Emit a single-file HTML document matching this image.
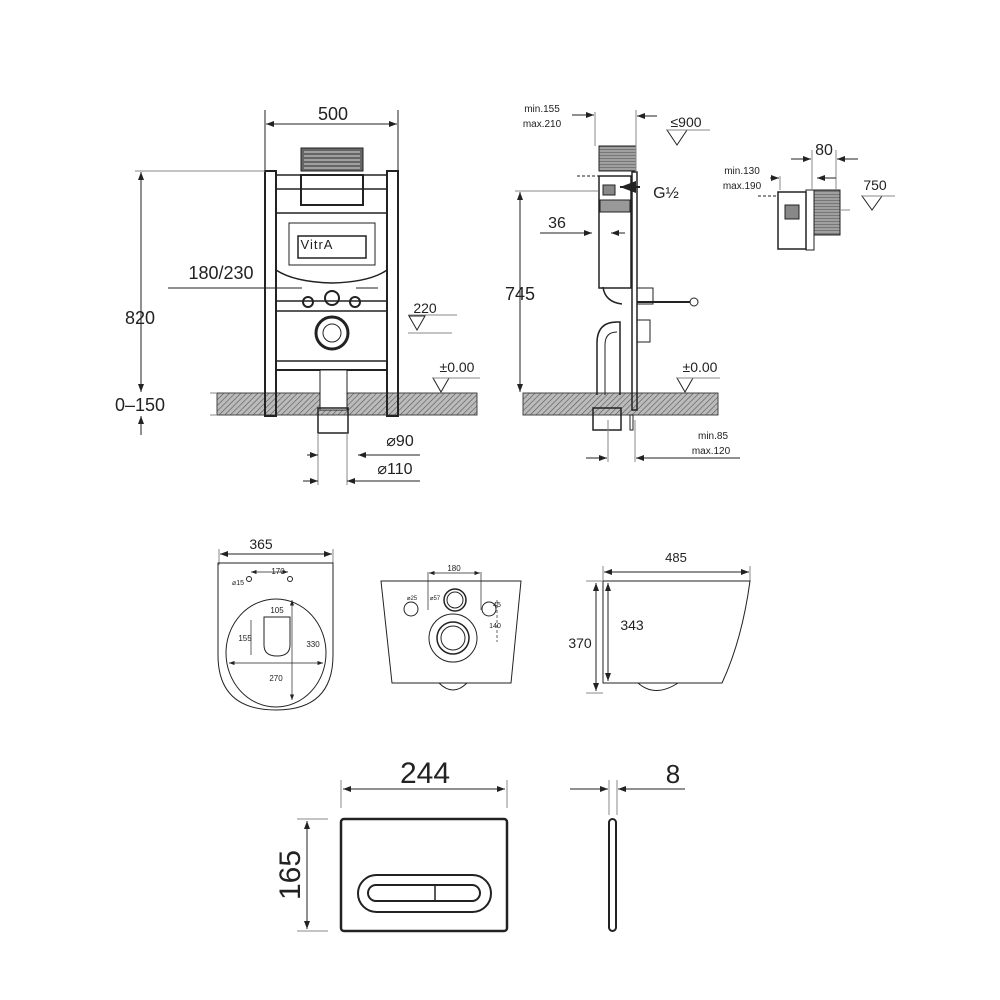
<!DOCTYPE html>
<html><head><meta charset="utf-8"><style>
html,body{margin:0;padding:0;background:#fff}
svg{display:block}
text{font-family:"Liberation Sans",sans-serif;fill:#222}
</style></head><body>
<svg width="1000" height="1000" viewBox="0 0 1000 1000" xmlns="http://www.w3.org/2000/svg">
<defs>
<pattern id="h" width="4" height="4" patternUnits="userSpaceOnUse" patternTransform="rotate(45)">
<rect width="4" height="4" fill="#bbb"/><line x1="0" y1="0" x2="0" y2="4" stroke="#555" stroke-width="1.2"/></pattern>
<pattern id="g" width="3" height="3" patternUnits="userSpaceOnUse"><rect width="3" height="3" fill="#777"/><line x1="0" y1="1" x2="3" y2="1" stroke="#ddd" stroke-width="0.8"/></pattern>
<marker id="a" markerWidth="8" markerHeight="6" refX="8" refY="3" orient="auto-start-reverse"><path d="M0,0 L8,3 L0,6z" fill="#222"/></marker>
</defs>
<g stroke="#222" fill="none" stroke-width="1">
<rect x="217" y="393" width="260" height="22" fill="url(#h)" stroke="#444"/>
<line x1="265" y1="110" x2="265" y2="170"/><line x1="398" y1="110" x2="398" y2="170"/>
<line x1="266" y1="124" x2="397" y2="124" marker-start="url(#a)" marker-end="url(#a)"/>
<rect x="301" y="148" width="62" height="23" fill="#666"/>
<g stroke="#fff" stroke-width="0.8"><line x1="304" y1="152" x2="360" y2="152"/><line x1="304" y1="156" x2="360" y2="156"/><line x1="304" y1="160" x2="360" y2="160"/><line x1="304" y1="164" x2="360" y2="164"/><line x1="304" y1="168" x2="360" y2="168"/></g>
<rect x="265" y="171" width="11" height="245" stroke-width="2"/>
<rect x="387" y="171" width="11" height="245" stroke-width="2"/>
<rect x="276" y="175" width="111" height="14" stroke-width="1.5"/>
<rect x="301" y="175" width="62" height="30" stroke-width="2"/>
<path d="M276 213 L387 213 L387 270 Q370 282 332 283 Q294 282 276 270Z" stroke-width="1.5"/>
<rect x="289" y="223" width="86" height="42"/>
<rect x="298" y="236" width="68" height="22" stroke-width="1.5"/>
<line x1="276" y1="301" x2="387" y2="301" stroke-width="1.5"/>
<line x1="276" y1="311" x2="387" y2="311" stroke-width="1.5"/>
<line x1="276" y1="370" x2="387" y2="370" stroke-width="2"/>
<line x1="276" y1="361" x2="387" y2="361" stroke-width="1.5"/>
<circle cx="308" cy="302" r="5" stroke-width="2"/><circle cx="355" cy="302" r="5" stroke-width="2"/>
<circle cx="332" cy="298" r="7" stroke-width="2"/>
<circle cx="332" cy="333" r="16" stroke-width="3"/><circle cx="332" cy="333" r="9"/>
<rect x="320" y="370" width="27" height="40" fill="#fff"/>
<rect x="318" y="408" width="30" height="25" stroke-width="1.5"/>
<line x1="141" y1="172" x2="141" y2="392" marker-start="url(#a)" marker-end="url(#a)"/>
<line x1="135" y1="171" x2="265" y2="171" stroke="#888"/>
<line x1="210" y1="393" x2="217" y2="393" stroke="#888"/><line x1="210" y1="415" x2="217" y2="415" stroke="#888"/>
<line x1="141" y1="416" x2="141" y2="435" marker-start="url(#a)"/>
<line x1="168" y1="288" x2="302" y2="288"/><line x1="356" y1="288" x2="378" y2="288"/>
<line x1="408" y1="315" x2="457" y2="315" stroke="#888"/><line x1="408" y1="333" x2="452" y2="333" stroke="#888"/>
<path d="M409 316 L425 316 L417 330Z"/>
<path d="M433 378 L449 378 L441 392Z"/><line x1="433" y1="378" x2="480" y2="378" stroke="#888"/>
<line x1="318" y1="433" x2="318" y2="485" stroke="#888"/><line x1="347" y1="433" x2="347" y2="485" stroke="#888"/>
<line x1="307" y1="455" x2="318" y2="455" marker-end="url(#a)"/><line x1="358" y1="455" x2="420" y2="455" marker-start="url(#a)"/>
<line x1="303" y1="481" x2="318" y2="481" marker-end="url(#a)"/><line x1="347" y1="481" x2="420" y2="481" marker-start="url(#a)"/>
<rect x="523" y="393" width="195" height="22" fill="url(#h)" stroke="#444"/>
<rect x="599" y="146" width="37" height="25" fill="url(#g)"/>
<rect x="632" y="172" width="5" height="238" stroke-width="1.5"/>
<rect x="599" y="176" width="32" height="112" stroke-width="1.5"/>
<rect x="603" y="185" width="12" height="10" fill="#888"/>
<rect x="600" y="200" width="30" height="12" fill="#999"/>
<path d="M603 287 Q605 302 622 304" stroke-width="1.5"/>
<rect x="637" y="288" width="16" height="16"/><rect x="637" y="320" width="13" height="22"/>
<line x1="637" y1="302" x2="690" y2="302" stroke-width="2"/><circle cx="694" cy="302" r="4"/>
<path d="M597 395 L597 343 Q597 322 617 322 L620 322 L620 395" stroke-width="1.5"/>
<path d="M605 395 L605 345 Q605 332 617 332" />
<rect x="593" y="408" width="28" height="22" stroke-width="1.5"/>
<rect x="630" y="415" width="3" height="15"/>
<line x1="595" y1="112" x2="595" y2="146" stroke="#888"/><line x1="572" y1="115" x2="594" y2="115" marker-end="url(#a)"/>
<line x1="636" y1="110" x2="636" y2="172" stroke="#888"/><line x1="657" y1="116" x2="637" y2="116" marker-end="url(#a)"/>
<path d="M667 130 L687 130 L677 145Z"/><line x1="667" y1="130" x2="710" y2="130" stroke="#888"/>
<line x1="577" y1="176" x2="600" y2="176" stroke-dasharray="3,2"/>
<line x1="640" y1="187" x2="620" y2="187" stroke-width="2" marker-end="url(#a)"/>
<line x1="520" y1="192" x2="520" y2="392" marker-start="url(#a)" marker-end="url(#a)"/>
<line x1="515" y1="191" x2="598" y2="191" stroke="#888"/>
<line x1="540" y1="233" x2="592" y2="233" marker-end="url(#a)"/><line x1="625" y1="233" x2="611" y2="233" marker-end="url(#a)"/>
<path d="M677 378 L693 378 L685 392Z"/><line x1="677" y1="378" x2="720" y2="378" stroke="#888"/>
<line x1="608" y1="420" x2="608" y2="462" stroke="#888"/><line x1="635" y1="420" x2="635" y2="462" stroke="#888"/>
<line x1="586" y1="458" x2="607" y2="458" marker-end="url(#a)"/><line x1="740" y1="458" x2="636" y2="458" marker-end="url(#a)"/>
<rect x="778" y="192" width="28" height="57" stroke-width="1.5"/>
<rect x="806" y="190" width="8" height="60"/>
<rect x="814" y="190" width="26" height="45" fill="url(#g)"/>
<rect x="785" y="205" width="14" height="14" fill="#888"/>
<line x1="758" y1="196" x2="778" y2="196" stroke-dasharray="3,2"/>
<line x1="770" y1="178" x2="779" y2="178" marker-end="url(#a)"/><line x1="780" y1="176" x2="780" y2="190" stroke="#888"/>
<line x1="791" y1="159" x2="811" y2="159" marker-end="url(#a)"/><line x1="858" y1="159" x2="837" y2="159" marker-end="url(#a)"/>
<line x1="812" y1="150" x2="812" y2="190" stroke="#888"/><line x1="836" y1="150" x2="836" y2="190" stroke="#888"/>
<line x1="836" y1="178" x2="817" y2="178" marker-end="url(#a)"/>
<path d="M862 196 L882 196 L872 210Z"/><line x1="862" y1="196" x2="895" y2="196" stroke="#888"/><line x1="840" y1="210" x2="850" y2="210" stroke="#888"/>
<line x1="219" y1="549" x2="219" y2="565" stroke="#888"/><line x1="333" y1="549" x2="333" y2="565" stroke="#888"/>
<line x1="220" y1="554" x2="332" y2="554" marker-start="url(#a)" marker-end="url(#a)"/>
<path d="M218 563 L333 563 L333 655 Q333 710 276 710 Q218 710 218 655Z"/>
<ellipse cx="276" cy="653" rx="50" ry="54"/>
<path d="M264 617 L290 617 L290 645 Q290 656 277 656 Q264 656 264 645Z"/>
<circle cx="249" cy="579" r="2.5"/><circle cx="290" cy="579" r="2.5"/>
<line x1="251" y1="572" x2="288" y2="572" marker-start="url(#a)" marker-end="url(#a)" stroke-width="0.7"/>
<line x1="229" y1="663" x2="323" y2="663" marker-start="url(#a)" marker-end="url(#a)" stroke-width="0.7"/>
<line x1="292" y1="600" x2="292" y2="700" marker-start="url(#a)" marker-end="url(#a)" stroke-width="0.7"/>
<line x1="251" y1="620" x2="251" y2="655" stroke-width="0.7"/>
<path d="M381 581 L521 581 L511 683 L392 683Z"/>
<circle cx="455" cy="600" r="11" stroke-width="1.5"/><circle cx="455" cy="600" r="8"/>
<circle cx="411" cy="609" r="7"/><circle cx="489" cy="609" r="7"/>
<circle cx="453" cy="638" r="24"/><circle cx="453" cy="638" r="16" stroke-width="1.5"/><circle cx="453" cy="638" r="12"/>
<path d="M439 683 Q453 697 467 683"/>
<line x1="428" y1="572" x2="428" y2="610" stroke-width="0.7"/><line x1="481" y1="572" x2="481" y2="610" stroke-width="0.7"/>
<line x1="429" y1="573" x2="480" y2="573" marker-start="url(#a)" marker-end="url(#a)" stroke-width="0.7"/>
<line x1="497" y1="600" x2="497" y2="642" stroke-dasharray="3,2" stroke-width="0.7"/>
<line x1="603" y1="566" x2="603" y2="582" stroke="#888"/><line x1="750" y1="566" x2="750" y2="582" stroke="#888"/>
<line x1="604" y1="572" x2="749" y2="572" marker-start="url(#a)" marker-end="url(#a)"/>
<path d="M603 581 L750 581 Q742 640 722 683 L603 683Z"/>
<path d="M638 683 Q655 698 678 683"/>
<line x1="586" y1="581" x2="603" y2="581" stroke="#888"/><line x1="586" y1="693" x2="603" y2="693" stroke="#888"/>
<line x1="596" y1="583" x2="596" y2="691" marker-start="url(#a)" marker-end="url(#a)"/>
<line x1="608" y1="583" x2="608" y2="681" marker-start="url(#a)" marker-end="url(#a)"/>
<line x1="341" y1="780" x2="341" y2="808" stroke="#888"/><line x1="507" y1="780" x2="507" y2="808" stroke="#888"/>
<line x1="343" y1="789" x2="505" y2="789" marker-start="url(#a)" marker-end="url(#a)"/>
<rect x="341" y="819" width="166" height="112" rx="3" stroke-width="2.5"/>
<rect x="358" y="875" width="133" height="37" rx="18.5" stroke-width="2"/>
<rect x="368" y="885" width="112" height="16" rx="8" stroke-width="2"/>
<line x1="435" y1="885" x2="435" y2="901" stroke-width="1.5"/>
<line x1="297" y1="819" x2="328" y2="819" stroke="#888"/><line x1="297" y1="931" x2="328" y2="931" stroke="#888"/>
<line x1="307" y1="821" x2="307" y2="929" marker-start="url(#a)" marker-end="url(#a)"/>
<rect x="609" y="819" width="7" height="112" rx="3.5" stroke-width="2"/>
<line x1="609" y1="780" x2="609" y2="815" stroke="#888"/><line x1="617" y1="780" x2="617" y2="815" stroke="#888"/>
<line x1="570" y1="789" x2="608" y2="789" marker-end="url(#a)"/><line x1="685" y1="789" x2="618" y2="789" marker-end="url(#a)"/>
</g>
<g>
<text x="333" y="120" font-size="18" text-anchor="middle">500</text>
<text x="140" y="324" font-size="18" text-anchor="middle">820</text>
<text x="140" y="411" font-size="18" text-anchor="middle">0–150</text>
<text x="221" y="279" font-size="18" text-anchor="middle">180/230</text>
<text x="425" y="313" font-size="14" text-anchor="middle">220</text>
<text x="457" y="372" font-size="14" text-anchor="middle">±0.00</text>
<text x="317" y="249" font-size="13" text-anchor="middle" letter-spacing="1">VitrA</text>
<text x="400" y="446" font-size="16" text-anchor="middle">⌀90</text>
<text x="395" y="474" font-size="16" text-anchor="middle">⌀110</text>
<text x="542" y="112" font-size="10" text-anchor="middle">min.155</text>
<text x="542" y="127" font-size="10" text-anchor="middle">max.210</text>
<text x="686" y="127" font-size="14" text-anchor="middle">≤900</text>
<text x="666" y="198" font-size="16" text-anchor="middle">G½</text>
<text x="520" y="300" font-size="18" text-anchor="middle">745</text>
<text x="557" y="228" font-size="16" text-anchor="middle">36</text>
<text x="700" y="372" font-size="14" text-anchor="middle">±0.00</text>
<text x="713" y="439" font-size="10" text-anchor="middle">min.85</text>
<text x="711" y="454" font-size="10" text-anchor="middle">max.120</text>
<text x="742" y="174" font-size="10" text-anchor="middle">min.130</text>
<text x="742" y="189" font-size="10" text-anchor="middle">max.190</text>
<text x="824" y="155" font-size="16" text-anchor="middle">80</text>
<text x="875" y="190" font-size="14" text-anchor="middle">750</text>
<text x="261" y="549" font-size="14" text-anchor="middle">365</text>
<text x="278" y="574" font-size="8" text-anchor="middle">170</text>
<text x="238" y="585" font-size="7" text-anchor="middle">⌀15</text>
<text x="277" y="613" font-size="8" text-anchor="middle">105</text>
<text x="245" y="641" font-size="8" text-anchor="middle">155</text>
<text x="313" y="647" font-size="8" text-anchor="middle">330</text>
<text x="276" y="681" font-size="8" text-anchor="middle">270</text>
<text x="454" y="571" font-size="8" text-anchor="middle">180</text>
<text x="412" y="600" font-size="6" text-anchor="middle">⌀25</text>
<text x="435" y="600" font-size="6" text-anchor="middle">⌀57</text>
<text x="497" y="607" font-size="7" text-anchor="middle">45</text>
<text x="495" y="628" font-size="7" text-anchor="middle">140</text>
<text x="676" y="562" font-size="13" text-anchor="middle">485</text>
<text x="580" y="648" font-size="14" text-anchor="middle">370</text>
<text x="632" y="630" font-size="14" text-anchor="middle">343</text>
<text x="425" y="783" font-size="30" text-anchor="middle">244</text>
<text x="673" y="783" font-size="26" text-anchor="middle">8</text>
<text x="0" y="0" font-size="30" text-anchor="middle" transform="translate(300,875) rotate(-90)">165</text>
</g>
</svg>
</body></html>
